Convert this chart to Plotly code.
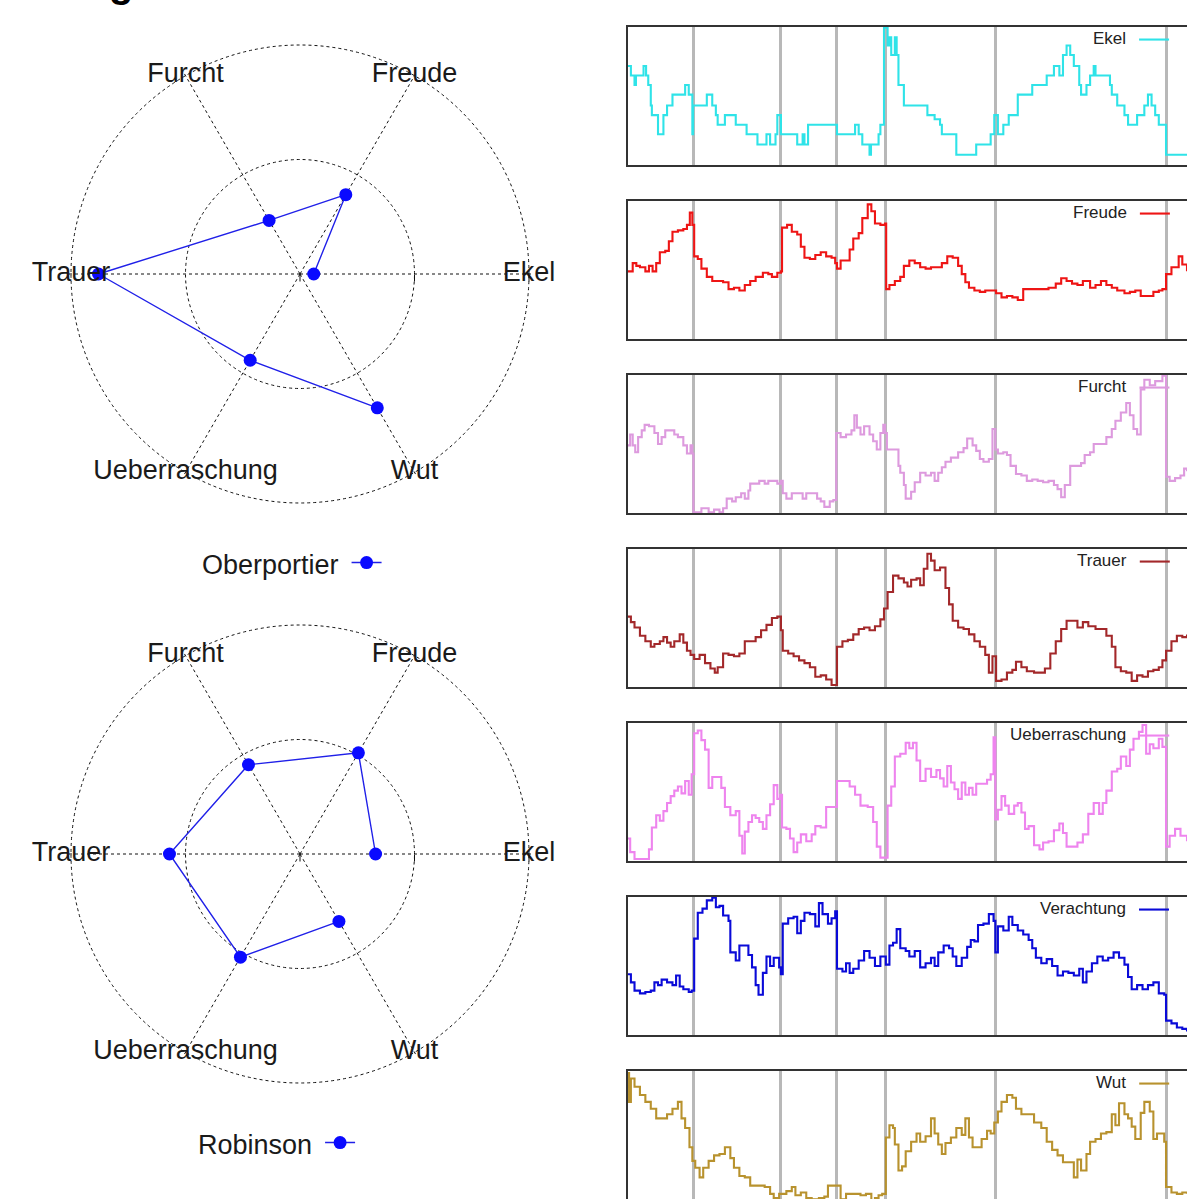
import plotly.graph_objects as go

W, H = 1187, 1199

# ---------------- radar data ----------------
emotions = ["Ekel", "Freude", "Furcht", "Trauer", "Ueberraschung", "Wut"]
oberportier = [0.12, 0.80, 0.54, 1.76, 0.87, 1.35]
robinson = [0.66, 1.02, 0.90, 1.14, 1.04, 0.68]

# ---------------- time series data (t = time index, v = normalised intensity) ----------------
chapter_marks = [181, 423, 578, 713, 1015, 1488]

ekel_t = [0, 8, 18, 22, 43, 50, 56, 63, 66, 83, 98, 108, 123, 158, 168, 178, 180, 218, 233, 243, 248, 268, 298, 328, 358, 383, 393, 408, 413, 423, 468, 483, 488, 498, 578, 628, 638, 648, 668, 672, 693, 698, 708, 718, 723, 728, 738, 743, 748, 763, 828, 848, 863, 868, 908, 963, 1003, 1013, 1023, 1038, 1053, 1078, 1118, 1158, 1178, 1193, 1203, 1213, 1223, 1233, 1248, 1253, 1268, 1278, 1288, 1293, 1333, 1338, 1353, 1373, 1383, 1408, 1428, 1438, 1448, 1458, 1468, 1488, 1546]
ekel_v = [.72, .65, .58, .65, .72, .65, .58, .43, .36, .22, .36, .43, .51, .58, .51, .22, .43, .51, .43, .36, .29, .36, .29, .22, .145, .22, .145, .22, .36, .22, .145, .22, .145, .29, .22, .29, .22, .145, .07, .145, .22, .29, 1.0, .87, .93, .80, .93, .80, .58, .43, .36, .33, .29, .22, .07, .145, .22, .36, .22, .29, .36, .51, .58, .65, .72, .65, .80, .87, .80, .72, .58, .51, .58, .65, .72, .65, .58, .51, .43, .36, .29, .36, .43, .51, .43, .36, .29, .07, .07]

freude_t = [0, 13, 23, 33, 48, 58, 68, 78, 88, 103, 113, 123, 138, 153, 163, 171, 178, 183, 193, 203, 218, 233, 263, 278, 293, 308, 323, 338, 353, 373, 388, 398, 413, 423, 426, 440, 453, 468, 478, 488, 503, 518, 533, 548, 563, 573, 578, 588, 613, 623, 638, 648, 663, 673, 683, 698, 711, 714, 723, 738, 753, 763, 778, 793, 808, 823, 838, 853, 868, 883, 898, 913, 923, 933, 943, 958, 973, 988, 1008, 1018, 1033, 1048, 1063, 1078, 1093, 1113, 1138, 1163, 1183, 1198, 1213, 1228, 1243, 1258, 1278, 1293, 1308, 1323, 1338, 1353, 1373, 1388, 1403, 1418, 1438, 1453, 1468, 1478, 1488, 1503, 1523, 1533, 1546]
freude_v = [.49, .55, .53, .52, .49, .53, .49, .55, .63, .64, .71, .78, .79, .80, .83, .92, .83, .60, .58, .51, .45, .42, .41, .36, .37, .35, .39, .42, .45, .48, .47, .45, .48, .49, .81, .83, .78, .76, .67, .59, .58, .61, .63, .60, .59, .55, .51, .57, .65, .73, .77, .88, .98, .93, .84, .83, .84, .36, .39, .42, .45, .53, .57, .55, .52, .51, .52, .52, .55, .60, .59, .53, .47, .41, .37, .35, .34, .35, .35, .33, .30, .31, .30, .28, .36, .36, .36, .37, .40, .44, .42, .40, .39, .42, .37, .39, .42, .39, .37, .35, .33, .34, .35, .31, .31, .34, .35, .36, .47, .52, .60, .54, .49]

furcht_t = [0, 6, 13, 20, 28, 38, 46, 58, 73, 83, 93, 103, 128, 138, 153, 163, 173, 178, 181, 203, 223, 238, 253, 263, 273, 288, 298, 313, 323, 333, 338, 363, 378, 388, 413, 423, 428, 438, 453, 483, 493, 523, 533, 543, 558, 568, 576, 588, 603, 618, 626, 633, 643, 653, 668, 678, 688, 698, 706, 711, 716, 748, 753, 763, 768, 783, 793, 808, 823, 838, 848, 858, 868, 878, 893, 913, 928, 938, 953, 963, 973, 983, 998, 1008, 1016, 1023, 1038, 1048, 1058, 1073, 1088, 1103, 1118, 1133, 1148, 1163, 1178, 1188, 1198, 1208, 1223, 1253, 1263, 1278, 1288, 1323, 1338, 1348, 1363, 1378, 1388, 1398, 1408, 1418, 1428, 1443, 1458, 1478, 1488, 1498, 1513, 1528, 1538, 1546]
furcht_v = [.49, .57, .49, .44, .55, .60, .64, .63, .58, .50, .55, .60, .57, .55, .49, .43, .49, .43, .00, .03, .00, .02, .00, .03, .10, .08, .11, .14, .10, .16, .21, .23, .21, .23, .21, .23, .14, .10, .14, .10, .14, .10, .08, .04, .08, .09, .58, .55, .57, .60, .71, .62, .57, .63, .57, .52, .46, .58, .64, .58, .46, .34, .29, .20, .10, .15, .22, .29, .27, .29, .23, .29, .33, .37, .40, .44, .47, .54, .49, .45, .39, .37, .39, .61, .46, .43, .44, .42, .34, .28, .27, .23, .24, .23, .22, .23, .20, .17, .11, .20, .34, .36, .42, .44, .50, .55, .61, .67, .73, .80, .71, .61, .57, .90, .97, .93, .96, 1.0, .26, .23, .25, .27, .32, .30]

trauer_t = [0, 8, 18, 33, 48, 63, 73, 88, 98, 108, 118, 128, 143, 153, 163, 173, 183, 198, 213, 228, 240, 248, 263, 278, 293, 308, 323, 353, 368, 383, 398, 413, 423, 428, 443, 458, 473, 488, 503, 518, 533, 548, 563, 578, 593, 608, 623, 638, 653, 668, 683, 698, 708, 718, 733, 748, 763, 773, 783, 798, 808, 818, 828, 838, 848, 863, 878, 888, 898, 913, 928, 943, 958, 973, 988, 998, 1008, 1018, 1033, 1048, 1063, 1073, 1088, 1103, 1123, 1153, 1168, 1183, 1198, 1213, 1243, 1258, 1273, 1293, 1323, 1338, 1348, 1363, 1378, 1393, 1408, 1423, 1438, 1453, 1468, 1478, 1488, 1503, 1518, 1533, 1546]
trauer_v = [.51, .47, .43, .37, .33, .29, .31, .33, .36, .32, .29, .33, .38, .32, .26, .23, .20, .23, .17, .13, .10, .14, .24, .23, .22, .24, .33, .36, .41, .45, .50, .51, .41, .26, .24, .22, .19, .17, .14, .07, .08, .05, .01, .29, .33, .34, .38, .42, .43, .41, .44, .49, .57, .69, .81, .79, .76, .73, .78, .79, .74, .86, .97, .92, .85, .87, .72, .60, .48, .43, .42, .38, .33, .29, .23, .10, .22, .04, .05, .10, .12, .18, .14, .11, .10, .13, .24, .33, .42, .48, .43, .47, .44, .42, .37, .29, .14, .11, .10, .04, .08, .07, .11, .12, .14, .19, .26, .33, .37, .36, .38]

ueber_t = [0, 6, 18, 58, 66, 78, 88, 98, 108, 118, 128, 138, 148, 158, 168, 176, 183, 193, 203, 213, 223, 233, 258, 268, 283, 298, 308, 316, 323, 333, 343, 353, 363, 373, 383, 393, 403, 413, 421, 426, 438, 448, 458, 468, 478, 493, 508, 518, 533, 548, 578, 598, 613, 628, 643, 663, 678, 688, 698, 718, 728, 738, 753, 768, 778, 788, 798, 808, 823, 838, 853, 863, 873, 883, 893, 903, 913, 923, 933, 943, 953, 963, 993, 1003, 1011, 1016, 1023, 1033, 1043, 1053, 1068, 1078, 1088, 1098, 1108, 1123, 1138, 1148, 1163, 1178, 1193, 1203, 1213, 1243, 1258, 1273, 1288, 1303, 1313, 1323, 1338, 1353, 1363, 1378, 1388, 1398, 1413, 1423, 1433, 1443, 1453, 1468, 1478, 1488, 1498, 1513, 1528, 1546]
ueber_v = [.16, .06, .01, .08, .24, .33, .29, .36, .42, .47, .51, .54, .49, .58, .48, .63, .93, .95, .88, .81, .53, .61, .53, .39, .33, .36, .18, .05, .21, .28, .33, .31, .28, .23, .33, .41, .55, .45, .48, .24, .23, .16, .06, .13, .19, .14, .19, .25, .24, .39, .58, .58, .54, .48, .40, .39, .28, .10, .02, .40, .54, .76, .78, .86, .82, .86, .73, .58, .67, .61, .66, .60, .54, .69, .57, .52, .45, .57, .48, .53, .48, .56, .59, .63, .90, .30, .37, .47, .40, .34, .40, .42, .35, .23, .25, .11, .08, .13, .14, .22, .27, .20, .10, .13, .19, .34, .42, .34, .42, .51, .65, .67, .76, .69, .81, .89, .94, .99, .78, .85, .82, .89, .83, .10, .18, .23, .18, .14]

veracht_t = [0, 8, 18, 33, 48, 63, 73, 83, 93, 108, 123, 133, 143, 153, 168, 176, 183, 193, 206, 218, 233, 243, 253, 263, 278, 283, 298, 308, 333, 343, 353, 361, 373, 383, 393, 403, 418, 423, 428, 443, 458, 468, 478, 488, 503, 518, 528, 538, 553, 563, 573, 578, 593, 603, 613, 623, 638, 653, 668, 683, 698, 713, 723, 733, 743, 753, 768, 778, 793, 808, 823, 838, 848, 858, 873, 888, 898, 908, 923, 938, 948, 958, 968, 983, 998, 1011, 1016, 1023, 1038, 1053, 1063, 1078, 1093, 1108, 1118, 1128, 1143, 1158, 1173, 1188, 1203, 1218, 1233, 1248, 1258, 1268, 1283, 1298, 1313, 1328, 1343, 1358, 1373, 1383, 1393, 1408, 1423, 1438, 1453, 1468, 1483, 1488, 1503, 1518, 1533, 1546]
veracht_v = [.44, .38, .32, .30, .31, .32, .38, .36, .40, .38, .36, .43, .35, .33, .31, .32, .70, .89, .92, .98, 1.0, .93, .94, .87, .83, .60, .54, .65, .58, .49, .36, .29, .45, .57, .50, .56, .49, .44, .81, .85, .86, .74, .83, .89, .88, .79, .96, .88, .81, .85, .90, .48, .46, .52, .45, .48, .54, .61, .56, .50, .57, .51, .65, .67, .77, .63, .61, .57, .61, .49, .52, .56, .50, .60, .65, .63, .57, .50, .56, .64, .69, .68, .80, .81, .88, .83, .60, .79, .76, .86, .80, .76, .73, .69, .63, .56, .52, .55, .50, .43, .46, .45, .43, .48, .38, .46, .52, .57, .54, .56, .60, .56, .51, .42, .33, .36, .33, .36, .38, .30, .29, .10, .08, .05, .04, .02]

wut_t = [0, 3, 8, 18, 33, 48, 63, 78, 108, 123, 138, 148, 158, 170, 178, 186, 198, 208, 223, 238, 253, 268, 283, 293, 308, 323, 338, 378, 393, 403, 418, 438, 453, 463, 478, 493, 508, 528, 543, 553, 588, 603, 643, 658, 673, 683, 693, 703, 713, 723, 733, 738, 748, 758, 768, 783, 798, 808, 823, 838, 848, 858, 868, 878, 893, 908, 923, 933, 943, 953, 978, 993, 1003, 1013, 1023, 1033, 1048, 1063, 1073, 1088, 1123, 1143, 1158, 1173, 1188, 1203, 1233, 1243, 1253, 1268, 1278, 1293, 1308, 1323, 1338, 1348, 1358, 1373, 1383, 1393, 1403, 1418, 1428, 1443, 1453, 1463, 1483, 1488, 1503, 1518, 1533, 1546]
wut_v = [.99, .78, .95, .89, .83, .78, .73, .66, .69, .73, .78, .66, .59, .45, .35, .30, .23, .30, .35, .39, .40, .45, .37, .30, .24, .23, .17, .16, .11, .08, .11, .13, .16, .10, .12, .08, .07, .08, .09, .17, .07, .11, .10, .11, .06, .08, .10, .11, .52, .61, .59, .47, .28, .31, .42, .49, .55, .49, .53, .66, .55, .47, .40, .48, .52, .59, .54, .66, .52, .45, .51, .57, .55, .63, .71, .78, .83, .81, .73, .69, .63, .59, .49, .43, .39, .34, .23, .36, .28, .40, .49, .51, .55, .56, .69, .61, .77, .69, .66, .60, .51, .70, .78, .71, .51, .55, .49, .16, .12, .11, .12, .11]

series_names = ["Ekel", "Freude", "Furcht", "Trauer", "Ueberraschung", "Verachtung", "Wut"]
series_t = [ekel_t, freude_t, furcht_t, trauer_t, ueber_t, veracht_t, wut_t]
series_v = [ekel_v, freude_v, furcht_v, trauer_v, ueber_v, veracht_v, wut_v]
series_colors = ["#2fe3e8", "#ee1515", "#dd9ade", "#a3282a", "#ee84ee", "#0a0ad8", "#b8922e"]

FONT = "Liberation Sans, Arial, Helvetica, sans-serif"
R_MAX = 2.04

fig = go.Figure()

# ---------------- radar charts ----------------
radars = [("polar", oberportier, "legend"),
          ("polar2", robinson, "legend2")]
for sub, vals, leg in radars:
    fig.add_trace(go.Scatterpolar(
        r=vals, theta=emotions, subplot=sub, mode="lines+markers",
        line=dict(color="#2020e8", width=1.4),
        marker=dict(color="#0a0aff", size=13),
        name="", legend=leg, showlegend=True,
    ))
    fig.add_trace(go.Scatterpolar(
        r=[2.0] * len(emotions), theta=emotions, subplot=sub, mode="text",
        text=emotions, textposition="middle center",
        textfont=dict(family=FONT, size=27, color="#1a1a1a"),
        cliponaxis=False, showlegend=False, hoverinfo="skip",
    ))

polar_common = dict(
    bgcolor="white",
    radialaxis=dict(range=[0, R_MAX], tickvals=[0, 1, 2], showticklabels=False,
                    ticks="outside", ticklen=7, tickcolor="#111", tickwidth=1.2,
                    showline=True, linecolor="rgba(0,0,0,0)",
                    gridcolor="#111", griddash="dot", gridwidth=1, angle=0),
    angularaxis=dict(type="category", categoryarray=emotions, rotation=0,
                     direction="counterclockwise", showticklabels=False, ticks="",
                     showline=False, gridcolor="#111", griddash="dot", gridwidth=1),
)

def px_dom_x(a, b):
    return [a / W, b / W]

def px_dom_y(top, bottom):
    return [1 - bottom / H, 1 - top / H]

rad = 229 * R_MAX / 2.0
cx = 300
for key, cy in (("polar", 274), ("polar2", 854)):
    fig.layout[key] = dict(domain=dict(x=px_dom_x(cx - rad, cx + rad),
                                       y=px_dom_y(cy - rad, cy + rad)), **polar_common)

legend_layouts = {}
for leg, title, xr, yc in (("legend", "Oberportier", 392, 563), ("legend2", "Robinson", 366, 1143)):
    legend_layouts[leg] = dict(
        x=xr / W, xanchor="right", y=1 - yc / H, yanchor="middle", orientation="h",
        title=dict(text=title, side="left", font=dict(family=FONT, size=27, color="#1a1a1a")),
        bgcolor="rgba(0,0,0,0)", itemwidth=30, font=dict(family=FONT, size=27))

# ---------------- time series panels ----------------
panel_top0, panel_step, panel_h = 27, 174, 138
for i, (name, ts, vs, col) in enumerate(zip(series_names, series_t, series_v, series_colors)):
    k = i + 1
    xa = "x" if k == 1 else f"x{k}"
    ya = "y" if k == 1 else f"y{k}"
    leg = f"legend{k + 2}"
    fig.add_trace(go.Scatter(
        x=ts, y=vs, xaxis=xa, yaxis=ya, mode="lines", line_shape="hv",
        line=dict(color=col, width=2.1), name="", legend=leg, showlegend=True,
    ))
    top = panel_top0 + panel_step * i
    bottom = top + panel_h
    last = bottom > H
    vis_bottom = min(bottom, H)
    y_lo = 1 - (vis_bottom - top) / panel_h if last else -0.005
    xkey = "xaxis" if k == 1 else f"xaxis{k}"
    ykey = "yaxis" if k == 1 else f"yaxis{k}"
    fig.layout[xkey] = dict(
        domain=[628 / W, 1.0], range=[0, 1546], anchor=ya,
        tickvals=chapter_marks, showticklabels=False, ticks="",
        showgrid=True, gridcolor="#b8b8b8", gridwidth=2.5, zeroline=False,
        showline=True, linecolor="#333", linewidth=1.5,
        mirror=(not last), side="top" if last else "bottom",
    )
    fig.layout[ykey] = dict(
        domain=px_dom_y(top, vis_bottom), range=[y_lo, 1.005],
        anchor=xa, showgrid=False, zeroline=False, showticklabels=False, ticks="",
        showline=True, linecolor="#333", linewidth=1.5,
    )
    legend_layouts[leg] = dict(
        x=1180 / W, xanchor="right", y=1 - (top + 13) / H, yanchor="middle",
        orientation="h",
        title=dict(text=name, side="left", font=dict(family=FONT, size=17, color="#222")),
        bgcolor="rgba(0,0,0,0)", itemwidth=30, font=dict(family=FONT, size=17),
    )

fig.update_layout(**legend_layouts)

fig.add_annotation(text="<b>g</b>", xref="paper", yref="paper", x=107 / W, y=1.0,
                   yanchor="bottom", yshift=-7, showarrow=False,
                   font=dict(family=FONT, size=40, color="#000"))

fig.update_layout(
    width=W, height=H, margin=dict(l=0, r=0, t=0, b=0),
    paper_bgcolor="white", plot_bgcolor="white",
    font=dict(family=FONT),
)

fig.write_html("out.html", config={"displayModeBar": False},
               post_script="document.body.style.margin='0px';document.body.style.overflow='hidden';")
